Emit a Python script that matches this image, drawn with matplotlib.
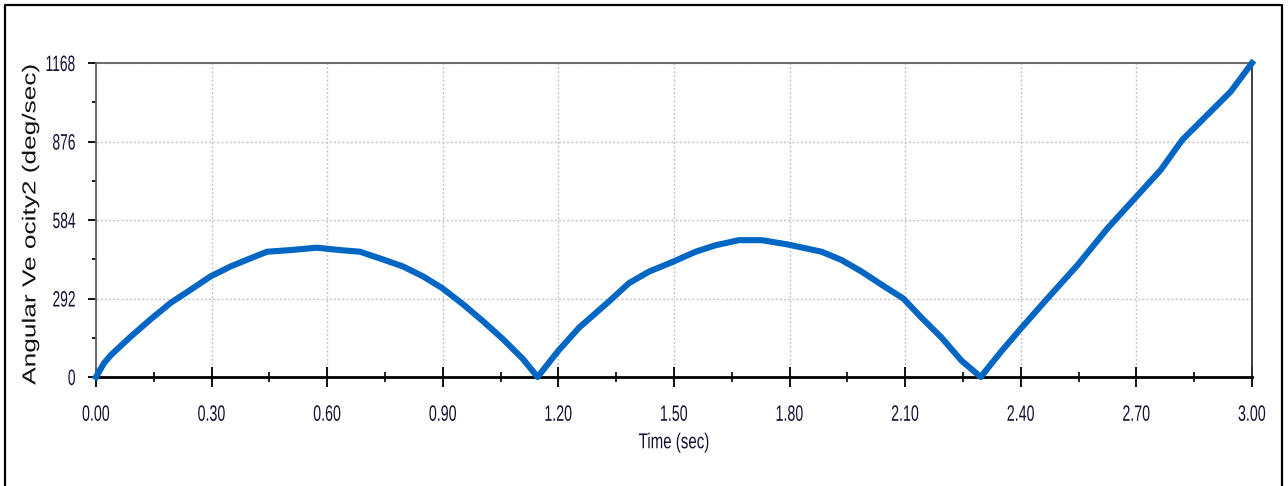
import numpy as np
import matplotlib
matplotlib.use("Agg")
import matplotlib.pyplot as plt
from matplotlib.lines import Line2D
from matplotlib.ticker import MultipleLocator, FormatStrFormatter
from matplotlib.patheffects import AbstractPathEffect
from matplotlib.transforms import Affine2D

# Values
time_s = [0.000, 0.021, 0.039, 0.090, 0.142, 0.194, 0.246, 0.297, 0.349, 0.400,
          0.444, 0.504, 0.573, 0.634, 0.685, 0.737, 0.797, 0.849, 0.898, 0.953,
          1.004, 1.056, 1.108, 1.146,
          1.200, 1.254, 1.332, 1.383, 1.435, 1.498, 1.556, 1.608, 1.668, 1.728,
          1.795, 1.883, 1.935, 1.987, 2.039, 2.095, 2.142, 2.194, 2.246, 2.296,
          2.348, 2.400, 2.469, 2.547, 2.625, 2.700, 2.763, 2.819, 2.884, 2.945,
          3.000]
ang_vel = [0, 52, 82, 150, 215, 276, 325, 374, 411, 441,
           466, 472, 481, 472, 466, 441, 411, 374, 331, 270,
           208, 141, 67, 0,
           98, 184, 282, 349, 392, 429, 466, 490, 509, 509,
           493, 466, 435, 392, 343, 292, 221, 147, 61, 0,
           93, 180, 292, 416, 553, 671, 770, 882, 975, 1062,
           1168]

x_ticks = [0.00, 0.30, 0.60, 0.90, 1.20, 1.50, 1.80, 2.10, 2.40, 2.70, 3.00]
y_ticks = [0, 292, 584, 876, 1168]


class Squeeze(AbstractPathEffect):
    """Scale text horizontally (narrow / wide look) around an anchor."""

    def __init__(self, sx, anchor=0.5):
        super().__init__()
        self.sx = sx
        self.anchor = anchor

    def draw_path(self, renderer, gc, tpath, affine, rgbFace=None):
        w = tpath.vertices[:, 0].max() if len(tpath.vertices) else 0
        tr = Affine2D().scale(self.sx, 1).translate(self.anchor * (1 - self.sx) * w, 0)
        renderer.draw_path(gc, tpath, tr + affine, rgbFace)


font = ["Liberation Sans", "DejaVu Sans"]
label_col = "#101030"

fig = plt.figure(figsize=(12.88, 4.86), dpi=100)
ax = fig.add_axes([96 / 1288, 1 - 377 / 486, (1252 - 96) / 1288, (377 - 63) / 486])

ax.plot(time_s, ang_vel, color="#0066c4", lw=4.4, clip_on=False, zorder=3)

ax.set_xlim(0, 3.0)
ax.set_ylim(0, 1168)
ax.set_xticks(x_ticks)
ax.set_yticks(y_ticks)
ax.xaxis.set_major_formatter(FormatStrFormatter("%.2f"))
ax.xaxis.set_minor_locator(MultipleLocator(0.15))
ax.yaxis.set_minor_locator(MultipleLocator(146))

ax.grid(True, which="major", color="#c4c4c4", ls=(0, (1.5, 1.5)), lw=1.0)

ax.tick_params(axis="x", which="major", direction="inout", length=15, width=1.3,
               pad=12.5, labelsize=16, labelcolor=label_col)
ax.tick_params(axis="x", which="minor", direction="inout", length=7, width=1.2)
ax.tick_params(axis="y", which="major", direction="out", length=6, width=1.3,
               pad=8.5, labelsize=16, labelcolor=label_col)
ax.tick_params(axis="y", which="minor", direction="out", length=3, width=1.3)
for lab in ax.get_xticklabels():
    lab.set_family(font)
    lab.set_path_effects([Squeeze(0.64, 0.5)])
for lab in ax.get_yticklabels():
    lab.set_family(font)
    lab.set_path_effects([Squeeze(0.62, 1.0)])

for side in ["top", "left"]:
    ax.spines[side].set_color("#606060")
    ax.spines[side].set_linewidth(1.3)
ax.spines["right"].set_color("#303030")
ax.spines["right"].set_linewidth(1.3)
ax.spines["bottom"].set_color("black")
ax.spines["bottom"].set_linewidth(2)

ax.set_xlabel("Time (sec)", fontsize=15.5, family=font, color=label_col)
ax.xaxis.set_label_coords(0.5, -0.176)
ax.xaxis.label.set_va("top")
ax.xaxis.label.set_path_effects([Squeeze(0.70, 0.5)])
ax.set_ylabel("Angular Ve ocity2 (deg/sec)", fontsize=13.5, family=font, color="#111111")
ax.yaxis.set_label_coords(-0.049, 0.485)
ax.yaxis.label.set_path_effects([Squeeze(1.4, 0.5)])

# outer frame (bottom edge is cut off in the reference)
fig.add_artist(Line2D([5 / 1288, 5 / 1288, 1282 / 1288, 1282 / 1288],
                      [0, 1 - 5 / 486, 1 - 5 / 486, 0],
                      transform=fig.transFigure, color="black", lw=1.6))

fig.savefig("out.png", dpi=100)
